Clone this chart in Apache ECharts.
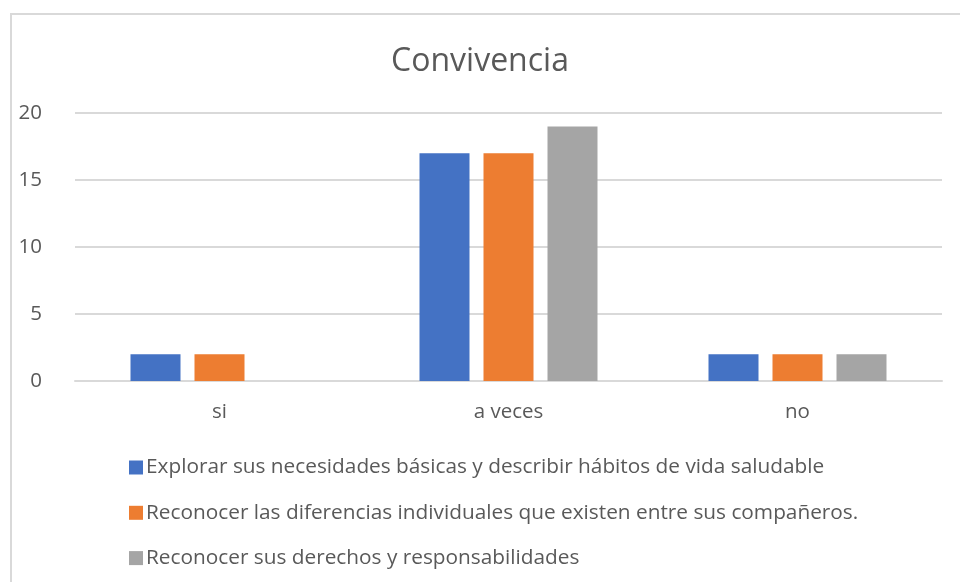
<!DOCTYPE html>
<html><head><meta charset="utf-8">
<script src="https://cdn.jsdelivr.net/npm/echarts@6/dist/echarts.min.js"></script>
<style>html,body{margin:0;padding:0;background:#fff}#c{width:960px;height:582px}</style>
</head><body><div id="c"></div>
<script>
const categories = ['si', 'a veces', 'no'];
const seriesNames = [
  'Explorar sus necesidades básicas y describir hábitos de vida saludable',
  'Reconocer las diferencias individuales que existen entre sus compañeros.',
  'Reconocer sus derechos y responsabilidades'
];
const explorar = [2, 17, 2];
const diferencias = [2, 17, 2];
const derechos = [0, 19, 2];
const colors = ['#4472C4', '#ED7D31', '#A5A5A5'];
const txt = '#595959';
const font = 'Open Sans';
const chart = echarts.init(document.getElementById('c'));
chart.setOption({
  animation: false,
  title: { text: 'Convivencia', left: 'center', top: 41, textStyle: { fontFamily: font, fontSize: 32, fontWeight: 'normal', color: txt } },
  graphic: [{ type: 'rect', shape: { x: 11, y: 14, width: 1000, height: 1000 }, style: { fill: 'none', stroke: '#d9d9d9', lineWidth: 2 } }],
  grid: { left: 75, right: 18, top: 113, bottom: 201 },
  legend: {
    orient: 'vertical', left: 124, top: 452, itemGap: 24.3, itemWidth: 14, itemHeight: 14, icon: 'rect',
    textStyle: { fontFamily: font, fontSize: 20.8, color: txt, padding: [0, 0, 0, -2] },
    data: seriesNames
  },
  xAxis: {
    type: 'category', data: categories,
    axisLine: { lineStyle: { color: '#d9d9d9', width: 2 } }, axisTick: { show: false },
    axisLabel: { fontFamily: font, fontSize: 20.5, color: txt, margin: 21 }
  },
  yAxis: {
    type: 'value', min: 0, max: 20, interval: 5,
    axisLine: { show: false }, axisTick: { show: false },
    splitLine: { lineStyle: { color: '#d9d9d9', width: 2 } },
    axisLabel: { fontFamily: font, fontSize: 20.5, color: txt, margin: 33 }
  },
  series: [explorar, diferencias, derechos].map((d, i) => ({
    name: seriesNames[i], type: 'bar', data: d, barWidth: 50, barGap: '28%', barCategoryGap: '38%',
    itemStyle: { color: colors[i] }
  }))
});
</script></body></html>
